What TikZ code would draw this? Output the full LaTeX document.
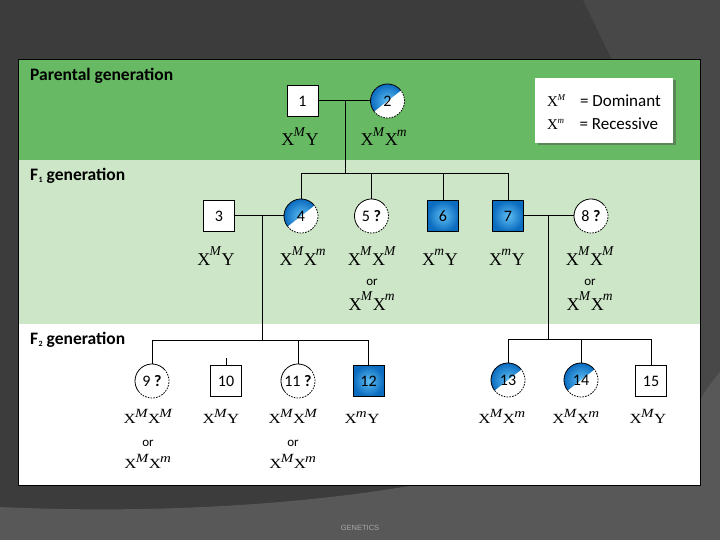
\documentclass[tikz,border=0pt]{standalone}
\usepackage{fontspec}
\usepackage{graphicx}
\setmainfont{Carlito}
\newfontfamily\gser{Liberation Serif}
\newfontfamily\gsans{Liberation Sans}
\usetikzlibrary{shadows,calc}

\definecolor{bgdark}{HTML}{3C3C3C}
\definecolor{bglight}{HTML}{484848}
\definecolor{bgbottom}{HTML}{585858}
\definecolor{pgreen}{HTML}{68B963}
\definecolor{lgreen}{HTML}{CCE6C7}
\definecolor{blueA}{HTML}{5EBDF2}
\definecolor{blueB}{HTML}{0B6CC0}
\definecolor{footgray}{HTML}{A8A8A8}

% genotype macros
\newcommand\gA[1]{X\kern-0.8pt\raisebox{9.5pt}{\fontsize{13.5}{13.5}\selectfont\itshape #1}\kern0.6pt}
\newcommand\gB[1]{X\kern-0.6pt\raisebox{6pt}{\fontsize{12.5}{12.5}\selectfont\itshape #1}\kern0.4pt}
\newcommand\gC[1]{X\kern-0.5pt\raisebox{6.5pt}{\fontsize{9}{9}\selectfont\itshape #1}}
\newcommand\ftwo[1]{\scalebox{1.2}[1]{#1}}

\tikzset{
  conn/.style={line width=1pt, black},
  sqbox/.style={draw=black, fill=white, minimum size=31pt, inner sep=0pt, line width=0.8pt,
    font=\fontsize{16}{16}\selectfont},
  sqblue/.style={sqbox, inner color=blueA, outer color=blueB},
  femnode/.style={circle, minimum size=34pt, inner sep=0pt, outer sep=0pt,
    font=\fontsize{16}{16}\selectfont},
  femline/.style={line width=0.8pt, black},
  femdash/.style={dash pattern=on 1.6pt off 1.2pt},
  gone/.style={anchor=base, inner sep=0pt, font=\gser\fontsize{18}{18}\selectfont},
  gtwo/.style={anchor=base, inner sep=0pt, font=\gser\fontsize{14}{15}\selectfont},
  ortext/.style={inner sep=0pt, font=\fontsize{13}{13}\selectfont},
  gentitle/.style={anchor=base west, inner sep=0pt, font=\bfseries\fontsize{17.5}{17.5}\selectfont},
  legtext/.style={anchor=base west, inner sep=0pt, font=\fontsize{17}{17}\selectfont},
}

\newcommand\femhalf[3]{%
  \fill[white] #2 circle[radius=17pt];
  \begin{scope}
    \clip #2 ++(38:17pt) arc[start angle=38,end angle=218,radius=17pt] -- cycle;
    \shade[inner color=blueA, outer color=blueB] #2 circle[radius=17pt];
  \end{scope}
  \node[femnode] (#1) at #2 {#3};
  \draw[femline] #2 ++(38:17pt) arc[start angle=38,end angle=218,radius=17pt];
  \draw[femline,femdash] #2 ++(218:17pt) arc[start angle=218,end angle=398,radius=17pt];
}
\newcommand\femq[3]{%
  \fill[white] #2 circle[radius=17pt];
  \node[femnode] (#1) at #2 {#3};
  \draw[femline] #2 ++(38:17pt) arc[start angle=38,end angle=218,radius=17pt];
  \draw[femline,femdash] #2 ++(218:17pt) arc[start angle=218,end angle=398,radius=17pt];
}

\begin{document}
\begin{tikzpicture}[x=1pt,y=1pt]
\useasboundingbox (0,0) rectangle (720,-540);
% background
\fill[bgdark] (0,0) rectangle (720,-540);
\fill[bglight] (583,0) -- (720,0) -- (720,-540) -- (700,-540) -- (700,-60) -- (612,-60) -- cycle;
\fill[bgbottom] (0,-507) .. controls (150,-514) and (300,-505) .. (415,-485) -- (700,-485)
  -- (700,-400) .. controls (706,-390) and (713,-380) .. (720,-372) -- (720,-540) -- (0,-540) -- cycle;

% panel
\fill[pgreen] (18,-60) rectangle (700,-160);
\fill[lgreen] (18,-160) rectangle (700,-324);
\fill[white] (18,-324) rectangle (700,-485);
\draw[line width=1pt] (18,-60) rectangle (700,-485);

% titles
\node[gentitle] (t1) at (30,-81) {Parental generation};
\node[gentitle] (t2) at (30,-181) {F\kern0.5pt\raisebox{-2pt}{\fontsize{8}{8}\selectfont 1}\ generation};
\node[gentitle] (t3) at (30,-344) {F\kern0.5pt\raisebox{-2pt}{\fontsize{8}{8}\selectfont 2}\ generation};

% legend
\node[draw=none, fill=white, minimum width=138pt, minimum height=65pt, inner sep=0pt,
  drop shadow={shadow xshift=2.5pt, shadow yshift=-2.5pt, opacity=0.45, fill=black!70}] (leg) at (604,-110.5) {};
\node[legtext] (lg1) at (547,-107) {{\gser\fontsize{15}{15}\selectfont\gC{M}}\hspace{15pt}= Dominant};
\node[legtext] (lg2) at (547,-130) {{\gser\fontsize{15}{15}\selectfont\gC{m}}\hspace{15.5pt}= Recessive};

% parents
\node[sqbox] (n1) at (302.5,-101) {1};
\femhalf{n2}{(387.5,-101)}{2}

% F1
\node[sqbox] (n3) at (219,-216) {3};
\femhalf{n4}{(301,-216)}{4}
\femq{n5}{(371.5,-216)}{5 \textbf{?}}
\node[sqblue] (n6) at (443,-216) {6};
\node[sqblue] (n7) at (508,-216) {7};
\femq{n8}{(591,-216)}{8 \textbf{?}}

% F2
\femq{n9}{(152,-381)}{9 \textbf{?}}
\node[sqbox] (n10) at (226,-381) {10};
\femq{n11}{(298,-381)}{11 \textbf{?}}
\node[sqblue] (n12) at (368.5,-381) {12};
\femhalf{n13}{(508,-380)}{13}
\femhalf{n14}{(581,-380)}{14}
\node[sqbox] (n15) at (651,-381) {15};

% connectors
\coordinate (m12) at (345,-101);
\coordinate (s1) at (345,-174);
\draw[conn] (n1.east) -- (n2.west);
\draw[conn] (m12) -- (s1);
\draw[conn] (n4.north) -- (n4.north |- s1) -- (n7.north |- s1) -- (n7.north);
\draw[conn] (n5.north) -- (n5.north |- s1);
\draw[conn] (n6.north) -- (n6.north |- s1);

\coordinate (m34) at (262,-216);
\coordinate (s2) at (262,-340);
\draw[conn] (n3.east) -- (n4.west);
\draw[conn] (m34) -- (s2);
\draw[conn] (n9.north) -- (n9.north |- s2) -- (n12.north |- s2) -- (n12.north);
\draw[conn] (n11.north) -- (n11.north |- s2);
\draw[conn] (n10.north) -- ++(0,7);

\coordinate (m78) at (548,-216);
\coordinate (s3) at (548,-339);
\draw[conn] (n7.east) -- (n8.west);
\draw[conn] (m78) -- (s3);
\draw[conn] (n13.north) -- (n13.north |- s3) -- (n15.north |- s3) -- (n15.north);
\draw[conn] (n14.north) -- (n14.north |- s3);

% genotype labels: parents
\node[gone] (g1) at (300,-146) {\gA{M}Y};
\node[gone] (g2) at (384,-146) {\gA{M}\gA{m}};
% F1
\node[gone] (g3) at (216,-265) {\gA{M}Y};
\node[gone] (g4) at (303,-265) {\gA{M}\gA{m}};
\node[gone] (g5) at (372,-265) {\gA{M}\gA{M}};
\node[gone] (g6) at (440,-265) {\gA{m}Y};
\node[gone] (g7) at (507,-265) {\gA{m}Y};
\node[gone] (g8) at (590,-265) {\gA{M}\gA{M}};
\node[ortext] (o5) at (372,-282) {or};
\node[ortext] (o8) at (590,-282) {or};
\node[gone] (h5) at (372,-310) {\gA{M}\gA{m}};
\node[gone] (h8) at (590,-310) {\gA{M}\gA{m}};
% F2
\node[gtwo] (g9) at (148,-423) {\ftwo{\gB{M}\gB{M}}};
\node[gtwo] (g10) at (221,-423) {\ftwo{\gB{M}Y}};
\node[gtwo] (g11) at (293,-423) {\ftwo{\gB{M}\gB{M}}};
\node[gtwo] (g12) at (362,-423) {\ftwo{\gB{m}Y}};
\node[gtwo] (g13) at (502,-423) {\ftwo{\gB{M}\gB{m}}};
\node[gtwo] (g14) at (576,-423) {\ftwo{\gB{M}\gB{m}}};
\node[gtwo] (g15) at (648,-423) {\ftwo{\gB{M}Y}};
\node[ortext] (o9) at (148,-443) {or};
\node[ortext] (o11) at (293,-443) {or};
\node[gtwo] (h9) at (148,-468) {\ftwo{\gB{M}\gB{m}}};
\node[gtwo] (h11) at (293,-468) {\ftwo{\gB{M}\gB{m}}};

% footer
\node[font=\gsans\fontsize{7.5}{7.5}\selectfont, text=footgray, inner sep=0pt] (foot) at (360,-528) {GENETICS};
\end{tikzpicture}
\end{document}
